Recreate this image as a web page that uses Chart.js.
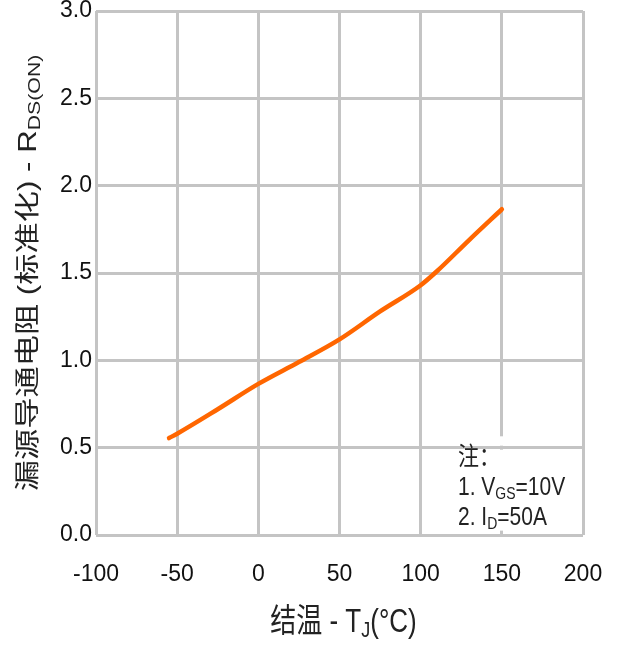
<!DOCTYPE html>
<html>
<head>
<meta charset="utf-8">
<script src="https://cdn.jsdelivr.net/npm/chart.js@4/dist/chart.umd.min.js"></script>
<style>
  html, body { margin: 0; padding: 0; background: #fff; }
  #wrap { width: 617px; height: 646px; }
</style>
</head>
<body>
<div id="wrap"><canvas id="rdsChart" width="617" height="646"></canvas></div>
<script>
// --- Data ---
const tempC   = [-55, -50, -25, 0, 25, 50, 75, 100, 110, 130, 150];
const rdsNorm = [0.555, 0.58, 0.72, 0.865, 0.99, 1.12, 1.28, 1.43, 1.51, 1.69, 1.865];

const xTicks = [-100, -50, 0, 50, 100, 150, 200];
const yTicks = [0.0, 0.5, 1.0, 1.5, 2.0, 2.5, 3.0];

// axis titles as [text, isSubscript]
const xTitle = [["结温 - T", false], ["J", true], ["(°C)", false]];
const yTitle = [["漏源导通电阻 (标准化) - R", false], ["DS(ON)", true]];
const noteLines = [
  [["注：", false]],
  [["1. V", false], ["GS", true], ["=10V", false]],
  [["2. I", false], ["D", true], ["=50A", false]]
];

const FONT = "'Liberation Sans', 'Noto Sans CJK SC', sans-serif";
const GRID = "#c4c4c4";
const STRETCH = 1.25;   // the original lettering is drawn taller than it is wide

// draws a run of text with subscripts; x,y is the start (or centre) on the baseline
function richText(ctx, parts, size, subSize, subDrop, align) {
  let total = 0;
  const widths = parts.map(([t, sub]) => {
    ctx.font = `${sub ? subSize : size}px ${FONT}`;
    const w = ctx.measureText(t).width;
    total += w;
    return w;
  });
  let cx = align === "center" ? -total / 2 : 0;
  parts.forEach(([t, sub], i) => {
    ctx.font = `${sub ? subSize : size}px ${FONT}`;
    ctx.fillText(t, cx, sub ? subDrop : 0);
    cx += widths[i];
  });
}

const extras = {
  id: "extras",
  beforeDatasetsDraw(chart) {
    // the 150 gridline is broken behind the note
    const { ctx, scales: { x, y } } = chart;
    const gx = x.getPixelForValue(150);
    const top = y.getPixelForValue(0.565), mid = y.getPixelForValue(0.5), bot = y.getPixelForValue(0.025);
    ctx.save();
    ctx.fillStyle = "#fff";
    ctx.fillRect(gx - 3, top, 6, mid - 2 - top);
    ctx.fillRect(gx - 3, mid + 2, 6, bot - mid - 2);
    ctx.restore();
  },
  afterDraw(chart) {
    const { ctx, chartArea: a } = chart;
    ctx.textBaseline = "alphabetic";
    ctx.fillStyle = "#222";

    // note block
    const nx = a.right - 125;
    const ny = [a.bottom - 70, a.bottom - 40, a.bottom - 10];
    noteLines.forEach((line, i) => {
      ctx.save();
      ctx.translate(nx, ny[i]);
      ctx.scale(1, 1.2);
      richText(ctx, line, 21, 14, 3, "left");
      ctx.restore();
    });

    // x title
    ctx.save();
    ctx.translate((a.left + a.right) / 2 + 4, 632);
    ctx.scale(1, STRETCH);
    richText(ctx, xTitle, 26, 18, 4, "center");
    ctx.restore();

    // y title, rotated (stretched along the page vertical)
    ctx.save();
    ctx.translate(36, (a.top + a.bottom) / 2);
    ctx.scale(1, STRETCH);
    ctx.rotate(-Math.PI / 2);
    richText(ctx, yTitle, 25, 17, 4, "center");
    ctx.restore();
  }
};

new Chart(document.getElementById("rdsChart"), {
  type: "line",
  data: {
    datasets: [{
      data: tempC.map((t, i) => ({ x: t, y: rdsNorm[i] })),
      borderColor: "#ff6600",
      borderWidth: 4.5,
      pointRadius: 0,
      cubicInterpolationMode: "monotone",
      borderCapStyle: "round",
      fill: false
    }]
  },
  options: {
    responsive: false,
    animation: false,
    layout: { padding: { left: 0, top: 11, right: 34, bottom: 0 } },
    plugins: { legend: { display: false }, tooltip: { enabled: false } },
    scales: {
      x: {
        type: "linear",
        min: xTicks[0],
        max: xTicks[xTicks.length - 1],
        afterBuildTicks: s => { s.ticks = xTicks.map(v => ({ value: v })); },
        afterFit: s => { s.height = 111; s.paddingLeft = 0; s.paddingRight = 0; },
        grid: { color: GRID, lineWidth: 3, drawTicks: false },
        border: { display: false },
        ticks: { color: "#111", padding: 26, font: { size: 23, family: FONT } }
      },
      y: {
        min: yTicks[0],
        max: yTicks[yTicks.length - 1],
        afterBuildTicks: s => { s.ticks = yTicks.map(v => ({ value: v })); },
        afterFit: s => { s.width = 96; s.paddingTop = 0; s.paddingBottom = 0; },
        grid: { color: GRID, lineWidth: 3, drawTicks: false },
        border: { display: false },
        ticks: {
          color: "#111", padding: 4, font: { size: 23, family: FONT },
          callback: v => v.toFixed(1)
        }
      }
    }
  },
  plugins: [extras]
});
</script>
</body>
</html>
